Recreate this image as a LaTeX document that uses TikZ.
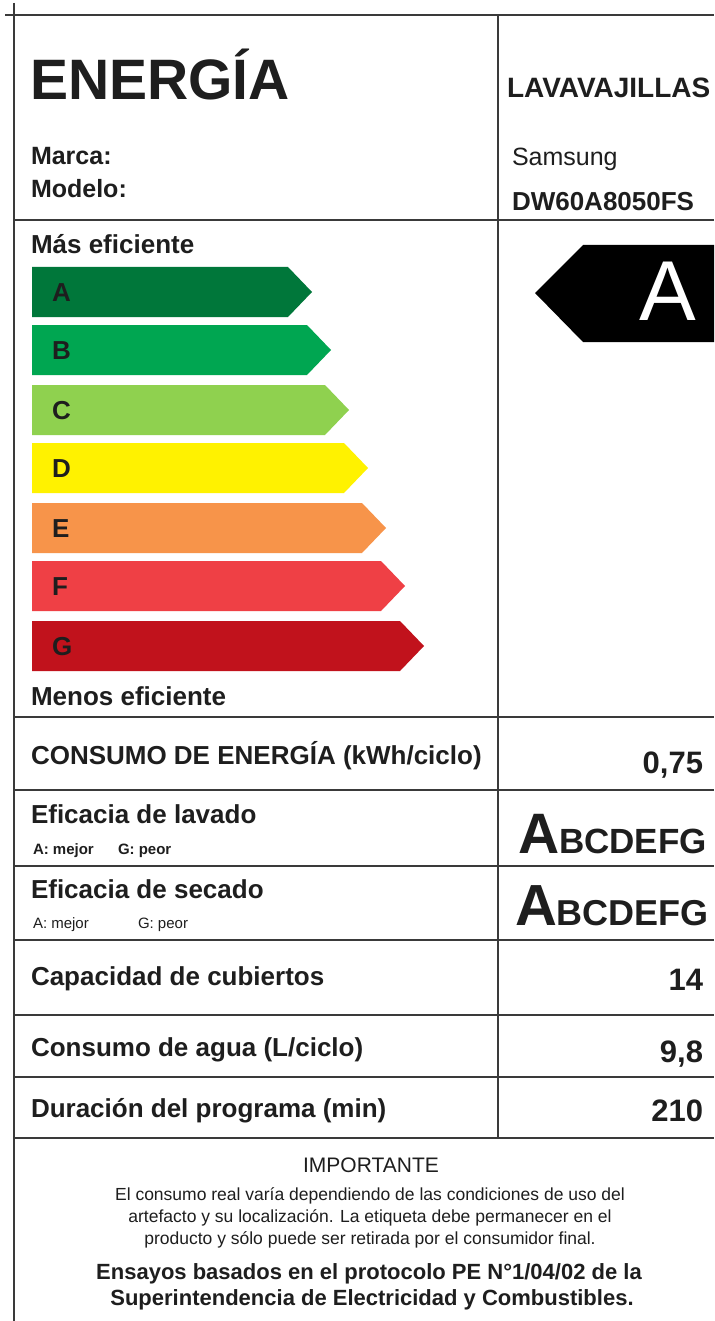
\documentclass[tikz,border=0pt]{standalone}
\usepackage{fontspec}
\setmainfont{Liberation Sans}
\definecolor{rulegray}{HTML}{3A3A3A}
\definecolor{inkblack}{HTML}{1E1E1E}
\definecolor{classA}{HTML}{00773A}
\definecolor{classB}{HTML}{00A651}
\definecolor{classC}{HTML}{8FD14F}
\definecolor{classD}{HTML}{FFF200}
\definecolor{classE}{HTML}{F7944A}
\definecolor{classF}{HTML}{EF4045}
\definecolor{classG}{HTML}{C1121C}
\newcommand{\pxfont}[1]{\fontsize{#1}{#1}\selectfont}
\tikzstyle{every node}=[inner sep=0pt, outer sep=0pt, text=inkblack]
\tikzstyle{gridline}=[line width=2.2pt, rulegray]
\tikzstyle{rowlbl}=[font=\bfseries\pxfont{26}, anchor=base west]
\tikzstyle{rowval}=[font=\bfseries\pxfont{31}, anchor=base east]
\tikzstyle{barlbl}=[font=\bfseries\pxfont{26}, anchor=west]
\tikzstyle{notelbl}=[font=\pxfont{15}, anchor=base west]

\begin{document}
\begin{tikzpicture}[x=1pt, y=-1pt]
    \useasboundingbox (0,0) rectangle (714,1321);
    \clip (0,0) rectangle (714,1321);
    \fill[white] (0,0) rectangle (714,1321);
% Frame
    \draw[gridline] (5,15) -- (714,15);
    \draw[gridline] (14,3) -- (14,1321);
    \draw[gridline] (498,15) -- (498,1138);
    \draw[gridline] (14,220) -- (714,220);
    \draw[gridline] (14,717) -- (714,717);
    \draw[gridline] (14,790) -- (714,790);
    \draw[gridline] (14,866) -- (714,866);
    \draw[gridline] (14,940) -- (714,940);
    \draw[gridline] (14,1015) -- (714,1015);
    \draw[gridline] (14,1077) -- (714,1077);
    \draw[gridline] (14,1138) -- (714,1138);
% Header
    \node[font=\bfseries\pxfont{57}, anchor=base west] (energia) at (30,100) {ENERGÍA};
    \node[font=\bfseries\pxfont{25}, anchor=base west] (marca) at (31,165) {Marca:};
    \node[font=\bfseries\pxfont{25}, anchor=base west] (modelo) at (31,198) {Modelo:};
    \node[font=\bfseries\pxfont{28}, anchor=base west] (tipo) at (507,98) {LAVAVAJILLAS};
    \node[font=\pxfont{25}, anchor=base west] (marcaval) at (512,166) {Samsung};
    \node[font=\bfseries\pxfont{26}, anchor=base west] (modeloval) at (512,211) {DW60A8050FS};
% Scale bars
    \node[rowlbl] (masef) at (31,254) {Más eficiente};
    \fill[classA] (32,267) -- (288,267) -- (312,292) -- (288,317) -- (32,317) -- cycle;
    \fill[classB] (32,325) -- (307,325) -- (331,350) -- (307,375) -- (32,375) -- cycle;
    \fill[classC] (32,385) -- (325,385) -- (349,410) -- (325,435) -- (32,435) -- cycle;
    \fill[classD] (32,443) -- (344,443) -- (368,468) -- (344,493) -- (32,493) -- cycle;
    \fill[classE] (32,503) -- (362,503) -- (386,528) -- (362,553) -- (32,553) -- cycle;
    \fill[classF] (32,561) -- (381,561) -- (405,586) -- (381,611) -- (32,611) -- cycle;
    \fill[classG] (32,621) -- (400,621) -- (424,646) -- (400,671) -- (32,671) -- cycle;
    \node[barlbl] (letA) at (52,293) {A};
    \node[barlbl] (letB) at (52,351) {B};
    \node[barlbl] (letC) at (52,411) {C};
    \node[barlbl] (letD) at (52,469) {D};
    \node[barlbl] (letE) at (52,529) {E};
    \node[barlbl] (letF) at (52,587) {F};
    \node[barlbl] (letG) at (52,647) {G};
    \node[rowlbl] (menosef) at (31,705) {Menos eficiente};
% Class arrow
    \fill[black] (535,293) -- (583,245) -- (720,245) -- (720,342) -- (583,342) -- cycle;
    \node[font=\pxfont{85}, text=white, anchor=base] (clase) at (668,320) {A};
% Rows
    \node[rowlbl] (consumo) at (31,764) {CONSUMO DE ENERGÍA (kWh/ciclo)};
    \node[rowval] (consumoval) at (703,773) {0,75};
    \node[rowlbl] (lavado) at (31,823) {Eficacia de lavado};
    \node[notelbl, font=\bfseries\pxfont{15}] (lavadomejor) at (33,854) {A: mejor};
    \node[notelbl, font=\bfseries\pxfont{15}] (lavadopeor) at (118,854) {G: peor};
    \node[anchor=base west, font=\bfseries] (lavadoval) at (518,853) {\pxfont{57}A\pxfont{35}BCDEFG};
    \node[rowlbl] (secado) at (31,898) {Eficacia de secado};
    \node[notelbl] (secadomejor) at (33,928) {A: mejor};
    \node[notelbl] (secadopeor) at (138,928) {G: peor};
    \node[anchor=base west, font=\bfseries] (secadoval) at (515,925) {\pxfont{58}A\pxfont{36}BCDEFG};
    \node[rowlbl] (cubiertos) at (31,985) {Capacidad de cubiertos};
    \node[rowval] (cubiertosval) at (703,990) {14};
    \node[rowlbl] (agua) at (31,1056) {Consumo de agua (L/ciclo)};
    \node[rowval] (aguaval) at (703,1062) {9,8};
    \node[rowlbl] (duracion) at (31,1117) {Duración del programa (min)};
    \node[rowval] (duracionval) at (703,1121) {210};
% Footer
    \node[font=\pxfont{21}, anchor=base] (importante) at (371,1172) {IMPORTANTE};
    \node[font=\pxfont{17.5}, anchor=base] (nota1) at (370,1200) {El consumo real varía dependiendo de las condiciones de uso del};
    \node[font=\pxfont{17.5}, anchor=base] (nota2) at (370,1222) {artefacto y su localización. La etiqueta debe permanecer en el};
    \node[font=\pxfont{17.5}, anchor=base] (nota3) at (370,1244) {producto y sólo puede ser retirada por el consumidor final.};
    \node[font=\bfseries\pxfont{22}, anchor=base] (ensayos1) at (369,1279) {Ensayos basados en el protocolo PE N°1/04/02 de la};
    \node[font=\bfseries\pxfont{22}, anchor=base] (ensayos2) at (372,1305) {Superintendencia de Electricidad y Combustibles.};
\end{tikzpicture}
\end{document}
